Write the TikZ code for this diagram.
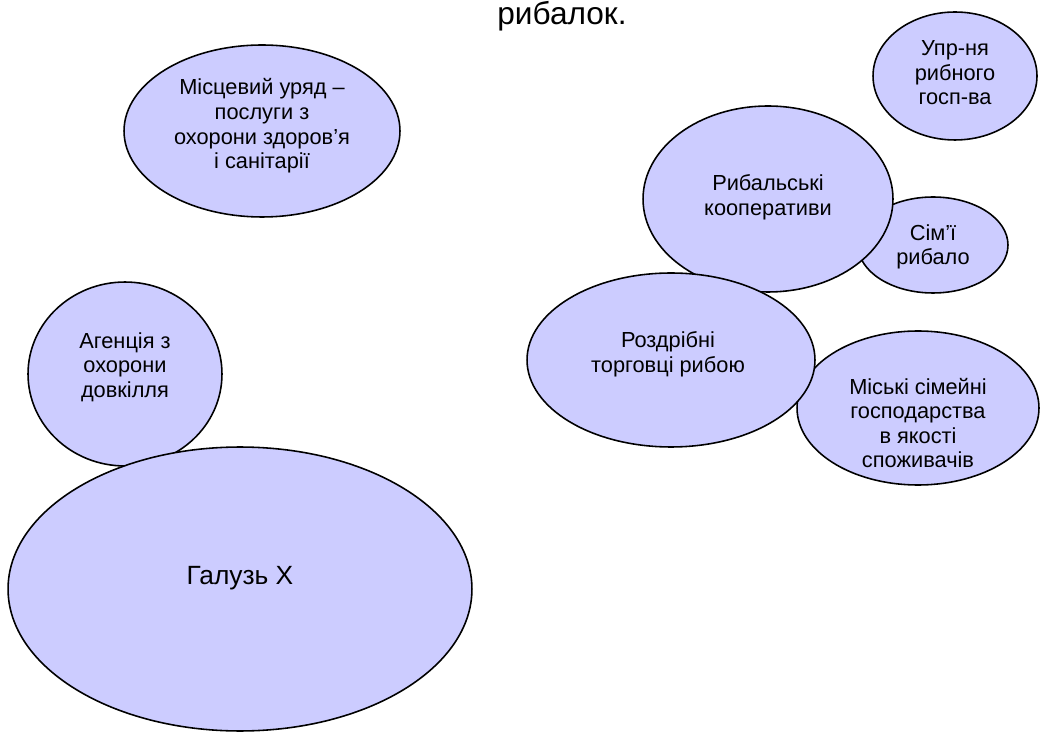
\documentclass[tikz,border=0pt]{standalone}
\usepackage{fontspec}
\setmainfont{Liberation Sans}
\usetikzlibrary{shapes.geometric}

\definecolor{bubblefill}{HTML}{CCCCFF}

\tikzset{
  bubble/.style={ellipse, draw=black, line width=0.9pt, fill=bubblefill,
    inner sep=0pt},
  bubbletext/.style={align=center, font=\fontsize{12.4}{14}\selectfont},
}

\begin{document}
\begin{tikzpicture}[x=0.02cm, y=-0.02cm]
  \useasboundingbox (0,0) rectangle (1040,732);

  % caption fragment at the top edge
  \node[anchor=base, font=\fontsize{18}{20}\selectfont] (caption) at (562,25) {рибалок.};

  % left group
  \node[bubble, minimum width=5.52cm, minimum height=3.44cm,
    label={[bubbletext, yshift=0.1cm]center:Місцевий уряд –\\послуги з\\охорони здоров’я\\і санітарії}]
    (gov) at (262,131) {};

  % right group (drawing order gives the overlaps)
  \node[bubble, minimum width=3.28cm, minimum height=2.56cm,
    label={[bubbletext, yshift=0.06cm]center:Упр-ня\\рибного\\госп-ва}]
    (mgmt) at (955,76) {};
  \node[bubble, minimum width=3.0cm, minimum height=1.92cm,
    label={[bubbletext, yshift=-0.04cm]center:Сім’ї\\рибало}]
    (families) at (933,245) {};
  \node[bubble, minimum width=5.0cm, minimum height=3.72cm,
    label={[bubbletext, yshift=0.04cm]center:Рибальські\\кооперативи}]
    (coops) at (768,199) {};
  \node[bubble, minimum width=4.84cm, minimum height=3.08cm,
    label={[bubbletext, yshift=-0.3cm]center:Міські сімейні\\господарства\\в якості\\споживачів}]
    (urban) at (918,408) {};
  \node[bubble, minimum width=5.76cm, minimum height=3.48cm,
    label={[bubbletext, yshift=0.12cm, xshift=-0.06cm]center:Роздрібні\\торговці рибою}]
    (retail) at (671,360) {};

  % bottom left
  \node[bubble, minimum width=3.88cm, minimum height=3.68cm,
    label={[bubbletext, yshift=0.14cm]center:Агенція з\\охорони\\довкілля}]
    (agency) at (125,374) {};
  \node[bubble, minimum width=9.28cm, minimum height=5.68cm,
    label={[font=\fontsize{15}{17}\selectfont, yshift=0.22cm]center:Галузь X}]
    (sector) at (240,589) {};
\end{tikzpicture}
\end{document}
